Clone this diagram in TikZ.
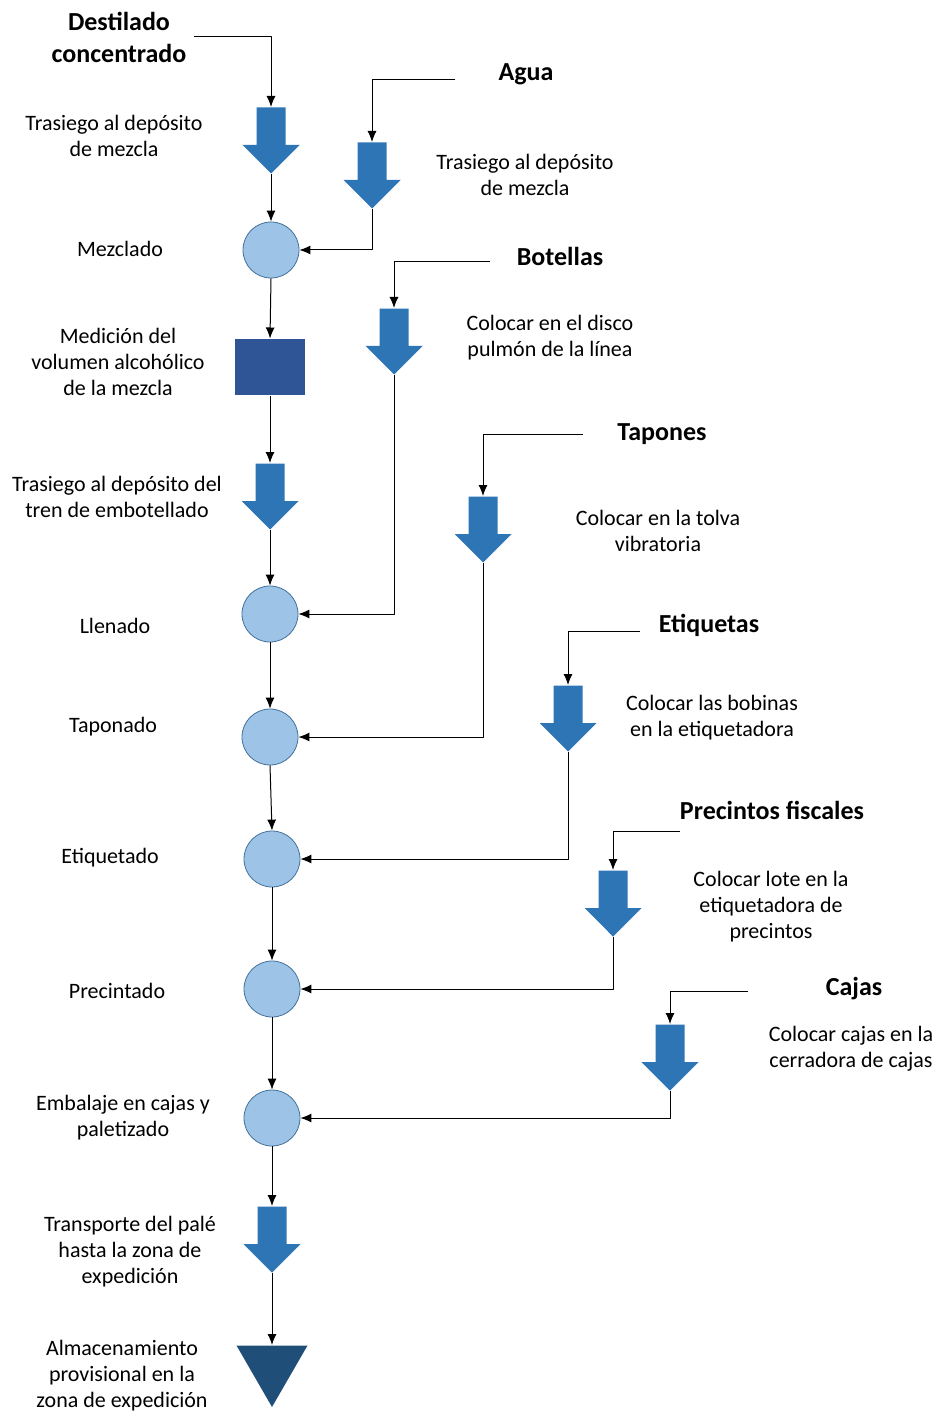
\documentclass[tikz,border=0pt]{standalone}
\usepackage{fontspec}
\setmainfont{Carlito}
\usetikzlibrary{shapes.arrows,shapes.geometric,arrows.meta}
\definecolor{arrowblue}{HTML}{2E75B6}
\definecolor{circfill}{HTML}{9DC3E6}
\definecolor{circedge}{HTML}{41719C}
\definecolor{rectblue}{HTML}{2F5597}
\definecolor{triblue}{HTML}{1F4E79}
\tikzset{
  blockarrow/.style={single arrow, draw=none, fill=arrowblue, rotate=-90,
    minimum height=66pt, single arrow head extend=14pt,
    single arrow tip angle=90, inner xsep=0pt, inner ysep=14pt},
  opcircle/.style={circle, draw=circedge, fill=circfill, line width=0.8pt,
    minimum size=56pt, inner sep=0pt},
  txt/.style={align=center, font=\fontsize{22}{26}\selectfont},
  ttl/.style={align=center, font=\fontsize{26}{32}\selectfont\bfseries},
}
\begin{document}
\begin{tikzpicture}[x=1pt,y=-1pt,>={Latex[length=11pt,width=9pt]},line join=bevel,line width=1pt]
\useasboundingbox (0,0) rectangle (940,1412);
%% main column
\node[blockarrow, anchor=tail] (a1) at (271,107) {};
\node[opcircle] (c1) at (271,250) {};
\node[rectangle, fill=rectblue, minimum width=70pt, minimum height=56pt] (m1) at (270,367) {};
\node[blockarrow, anchor=tail] (a3) at (270,463) {};
\node[opcircle] (c2) at (270,614) {};
\node[opcircle] (c3) at (270,737) {};
\node[opcircle] (c4) at (272,859) {};
\node[opcircle] (c5) at (272,989) {};
\node[opcircle] (c6) at (272,1118) {};
\node[blockarrow, anchor=tail] (a4) at (272,1206) {};
\node[regular polygon, regular polygon sides=3, shape border rotate=180,
  fill=triblue, minimum size=82pt, inner sep=0pt] (tri) at (272,1366) {};
%% labels of the main column
\node[ttl] (tDest) at (119,37) {Destilado\\concentrado};
\node[txt] (l1) at (114,136) {Trasiego al depósito\\de mezcla};
\node[txt] (l2) at (120,249) {Mezclado};
\node[txt] (l3) at (118,362) {Medición del\\volumen alcohólico\\de la mezcla};
\node[txt] (l4) at (117,497) {Trasiego al depósito del\\tren de embotellado};
\node[txt] (l5) at (115,626) {Llenado};
\node[txt] (l6) at (113,727) {Taponado};
\node[txt] (l7) at (110,858) {Etiquetado};
\node[txt] (l8) at (117,991) {Precintado};
\node[txt] (l9) at (123,1118) {Embalaje en cajas y\\paletizado};
\node[txt] (l10) at (130,1252) {Transporte del palé\\hasta la zona de\\expedición};
\node[txt] (l11) at (122,1376) {Almacenamiento\\provisional en la\\zona de expedición};
%% side inputs
\node[blockarrow, anchor=tail] (aAgua) at (372,142) {};
\node[blockarrow, anchor=tail] (aBot) at (394,308) {};
\node[blockarrow, anchor=tail] (aTap) at (483,496) {};
\node[blockarrow, anchor=tail] (aEti) at (568,685) {};
\node[blockarrow, anchor=tail] (aPre) at (613,870) {};
\node[blockarrow, anchor=tail] (aCaj) at (670,1024) {};
\node[ttl] (tAgua) at (526,74) {Agua};
\node[ttl] (tBot) at (560,256) {Botellas};
\node[ttl] (tTap) at (662,434) {Tapones};
\node[ttl] (tEti) at (709,625) {Etiquetas};
\node[ttl] (tPre) at (772,810) {Precintos fiscales};
\node[ttl] (tCaj) at (854,989) {Cajas};
\node[txt] (rAgua) at (525,175) {Trasiego al depósito\\de mezcla};
\node[txt] (rBot) at (550,338) {Colocar en el disco\\pulmón de la línea};
\node[txt] (rTap) at (658,531) {Colocar en la tolva\\vibratoria};
\node[txt] (rEti) at (712,718) {Colocar las bobinas\\en la etiquetadora};
\node[txt] (rPre) at (771,907) {Colocar lote en la\\etiquetadora de\\precintos};
\node[txt] (rCaj) at (851,1049) {Colocar cajas en la\\cerradora de cajas};
\coordinate (pAgua) at (455,80);
\coordinate (pBot) at (490,262);
\coordinate (pTap) at (583,434);
\coordinate (pEti) at (640,631);
\coordinate (pPre) at (680,831);
\coordinate (pCaj) at (748,991);
%% connectors
\draw[->] ([xshift=4pt]tDest.east) -| (a1.tail);
\draw[->] (a1.tip) -- (c1.north);
\draw[->] (c1.south) -- (m1.north);
\draw[->] (m1.south) -- (a3.tail);
\draw[->] (a3.tip) -- (c2.north);
\draw[->] (c2.south) -- (c3.north);
\draw[->] (c3.south) -- (c4.north);
\draw[->] (c4.south) -- (c5.north);
\draw[->] (c5.south) -- (c6.north);
\draw[->] (c6.south) -- (a4.tail);
\draw[->] (a4.tip) -- (tri.north);
\draw[->] (pAgua) -| (aAgua.tail);
\draw[->] (aAgua.tip) |- (c1.east);
\draw[->] (pBot) -| (aBot.tail);
\draw[->] (aBot.tip) |- (c2.east);
\draw[->] (pTap) -| (aTap.tail);
\draw[->] (aTap.tip) |- (c3.east);
\draw[->] (pEti) -| (aEti.tail);
\draw[->] (aEti.tip) |- (c4.east);
\draw[->] (pPre) -| (aPre.tail);
\draw[->] (aPre.tip) |- (c5.east);
\draw[->] (pCaj) -| (aCaj.tail);
\draw[->] (aCaj.tip) |- (c6.east);
\end{tikzpicture}
\end{document}
